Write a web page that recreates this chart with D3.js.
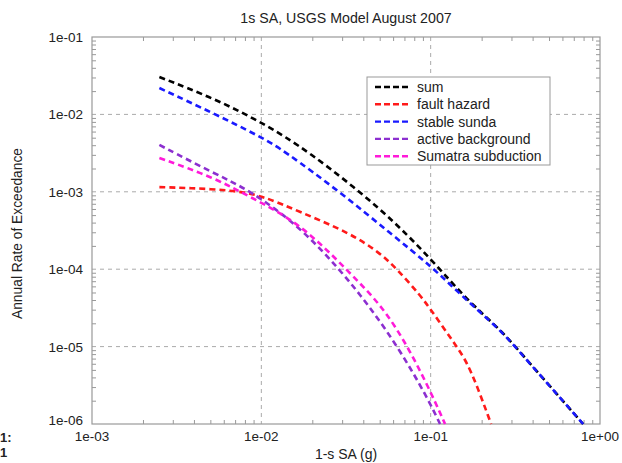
<!DOCTYPE html>
<html>
<head>
<meta charset="utf-8">
<script src="https://cdn.jsdelivr.net/npm/d3@7"></script>
<style>
  body { margin: 0; background: #fff; }
  text { font-family: "Liberation Sans", Arial, sans-serif; fill: #222; }
</style>
</head>
<body>
<script>
// hazard curve values (x = SA in g, y = annual rate)
var seriesNames = ["sum", "fault hazard", "stable sunda", "active background", "Sumatra subduction"];
var seriesColors = ["#000000", "#ff1a1a", "#1a1aff", "#8c2fd0", "#ff1ad9"];

var sumX = [0.0025, 0.00519, 0.00996, 0.01862, 0.0524, 0.1019, 0.164, 0.257, 0.315, 0.795];
var sumY = [0.0304, 0.0163, 7.98e-3, 3.47e-3, 5.82e-4, 1.31e-4, 4.0e-5, 1.66e-5, 1.01e-5, 1.0e-6];

var faultX = [0.0025, 0.00379, 0.00653, 0.00996, 0.01694, 0.0334, 0.0502, 0.0634, 0.0865, 0.1005, 0.130, 0.143, 0.171, 0.2275];
var faultY = [1.15e-3, 1.12e-3, 1.05e-3, 9.1e-4, 5.48e-4, 2.94e-4, 1.62e-4, 1.0e-4, 4.65e-5, 2.97e-5, 1.33e-5, 9.9e-6, 5.45e-6, 1.0e-6];

var stableX = [0.0025, 0.00519, 0.00996, 0.01343, 0.0292, 0.0575, 0.1019, 0.1553, 0.257, 0.315, 0.795];
var stableY = [0.0219, 0.0104, 5.1e-3, 3.47e-3, 9.9e-4, 2.94e-4, 1.07e-4, 4.37e-5, 1.64e-5, 1.0e-5, 1.0e-6];

var activeX = [0.0025, 0.00519, 0.00857, 0.01694, 0.0292, 0.0438, 0.0659, 0.0952, 0.1136];
var activeY = [4.03e-3, 1.75e-3, 1.05e-3, 3.51e-4, 9.8e-5, 3.25e-5, 9.0e-6, 2.23e-6, 1.0e-6];

var sumatraX = [0.0025, 0.00519, 0.00857, 0.01694, 0.0334, 0.0524, 0.0755, 0.1033, 0.1216];
var sumatraY = [2.74e-3, 1.55e-3, 8.57e-4, 3.95e-4, 8.93e-5, 3.25e-5, 9.0e-6, 2.23e-6, 1.0e-6];

var xTickVals = [1e-3, 1e-2, 1e-1, 1];
var xTickLabels = ["1e-03", "1e-02", "1e-01", "1e+00"];
var yTickVals = [1e-1, 1e-2, 1e-3, 1e-4, 1e-5, 1e-6];
var yTickLabels = ["1e-01", "1e-02", "1e-03", "1e-04", "1e-05", "1e-06"];

window.onload = function(){
  var W = 622, H = 463;
  var m = {left: 92, top: 37, right: 22, bottom: 39};
  var w = W - m.left - m.right,
      h = H - m.top - m.bottom;

  var svg = d3.select("body").append("svg")
    .attr("width", W)
    .attr("height", H);

  var x = d3.scaleLog().domain([1e-3, 1]).range([m.left, m.left + w]);
  var y = d3.scaleLog().domain([1e-6, 1e-1]).range([m.top + h, m.top]);

  // dashed grid at the decades, not on the frame itself
  svg.append("g").selectAll("line")
    .data(xTickVals.slice(1, -1))
    .enter().append("line")
    .attr("x1", function(d){ return x(d); })
    .attr("x2", function(d){ return x(d); })
    .attr("y1", m.top).attr("y2", m.top + h)
    .attr("stroke", "#aaa").attr("stroke-dasharray", "4,4");
  svg.append("g").selectAll("line")
    .data(yTickVals.slice(1, -1))
    .enter().append("line")
    .attr("y1", function(d){ return y(d); })
    .attr("y2", function(d){ return y(d); })
    .attr("x1", m.left).attr("x2", m.left + w)
    .attr("stroke", "#aaa").attr("stroke-dasharray", "4,4");

  // minor ticks pointing inward on all four sides
  var xMinor = [], yMinor = [];
  [1e-3, 1e-2, 1e-1].forEach(function(p){ for (var k = 2; k < 10; k++) xMinor.push(p * k); });
  [1e-6, 1e-5, 1e-4, 1e-3, 1e-2].forEach(function(p){ for (var k = 2; k < 10; k++) yMinor.push(p * k); });

  svg.append("g").attr("transform", "translate(0," + (m.top + h) + ")")
    .call(d3.axisBottom(x).tickValues(xMinor).tickSize(-4).tickFormat(""))
    .call(function(g){ g.select(".domain").remove(); g.selectAll("line").attr("stroke", "#999"); });
  svg.append("g").attr("transform", "translate(0," + m.top + ")")
    .call(d3.axisTop(x).tickValues(xMinor).tickSize(-4).tickFormat(""))
    .call(function(g){ g.select(".domain").remove(); g.selectAll("line").attr("stroke", "#999"); });
  svg.append("g").attr("transform", "translate(" + m.left + ",0)")
    .call(d3.axisLeft(y).tickValues(yMinor).tickSize(-4).tickFormat(""))
    .call(function(g){ g.select(".domain").remove(); g.selectAll("line").attr("stroke", "#999"); });
  svg.append("g").attr("transform", "translate(" + (m.left + w) + ",0)")
    .call(d3.axisRight(y).tickValues(yMinor).tickSize(-4).tickFormat(""))
    .call(function(g){ g.select(".domain").remove(); g.selectAll("line").attr("stroke", "#999"); });

  // frame
  svg.append("rect")
    .attr("x", m.left).attr("y", m.top)
    .attr("width", w).attr("height", h)
    .attr("fill", "none").attr("stroke", "#999").attr("stroke-width", 1.2);

  // tick labels
  svg.append("g").selectAll("text")
    .data(xTickVals)
    .enter().append("text")
    .attr("x", function(d){ return x(d); })
    .attr("y", m.top + h + 17)
    .attr("text-anchor", "middle")
    .style("font-size", "13.5px")
    .text(function(d, i){ return xTickLabels[i]; });
  svg.append("g").selectAll("text")
    .data(yTickVals)
    .enter().append("text")
    .attr("x", m.left - 9)
    .attr("y", function(d, i){ return y(d) + (i == yTickVals.length - 1 ? 1 : 5); })
    .attr("text-anchor", "end")
    .style("font-size", "13.5px")
    .text(function(d, i){ return yTickLabels[i]; });

  // titles
  svg.append("text")
    .attr("x", 346).attr("y", 23)
    .attr("text-anchor", "middle")
    .style("font-size", "14.2px")
    .text("1s SA, USGS Model August 2007");
  svg.append("text")
    .attr("x", 346).attr("y", 459)
    .attr("text-anchor", "middle")
    .style("font-size", "14px")
    .text("1-s SA (g)");
  svg.append("text")
    .attr("transform", "translate(22," + (m.top + h / 2 + 3) + ") rotate(-90)")
    .attr("text-anchor", "middle")
    .style("font-size", "13.8px")
    .text("Annual Rate of Exceedance");

  // stray bits of a neighbouring figure at the lower-left edge
  svg.append("text").attr("x", 0).attr("y", 442)
    .style("font-size", "13px").style("font-weight", "bold").text("1:");
  svg.append("text").attr("x", 0).attr("y", 457)
    .style("font-size", "13px").style("font-weight", "bold").text("1");

  // curves, smoothed through the read points
  var xs = [sumX, faultX, stableX, activeX, sumatraX];
  var ys = [sumY, faultY, stableY, activeY, sumatraY];
  var line = d3.line()
    .x(function(d){ return x(d[0]); })
    .y(function(d){ return y(d[1]); })
    .curve(d3.curveBasis);

  // draw the sum first so blue ends up over it where they merge
  [0, 1, 3, 4, 2].forEach(function(i){
    svg.append("path")
      .datum(d3.zip(xs[i], ys[i]))
      .attr("d", line)
      .attr("fill", "none")
      .attr("stroke", seriesColors[i])
      .attr("stroke-width", 2.6)
      .attr("stroke-dasharray", "6,4");
  });

  // legend
  var lg = svg.append("g").attr("transform", "translate(367,77)");
  lg.append("rect")
    .attr("width", 183).attr("height", 88)
    .attr("fill", "#fff").attr("stroke", "#999");
  var row = lg.selectAll(".row")
    .data(seriesNames)
    .enter().append("g")
    .attr("class", "row")
    .attr("transform", function(d, i){ return "translate(0," + (10 + i * 17.3) + ")"; });
  row.append("line")
    .attr("x1", 8).attr("x2", 42)
    .attr("stroke", function(d, i){ return seriesColors[i]; })
    .attr("stroke-width", 2.4)
    .attr("stroke-dasharray", "6,3");
  row.append("text")
    .attr("x", 50).attr("y", 5)
    .style("font-size", "14px")
    .text(function(d){ return d; });
};
</script>
</body>
</html>
